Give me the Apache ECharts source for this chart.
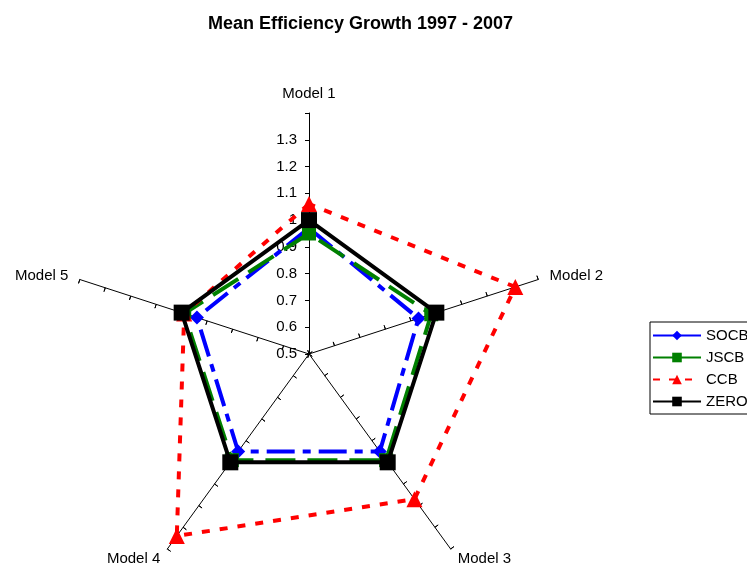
<!DOCTYPE html>
<html><head><meta charset="utf-8">
<script src="https://cdn.jsdelivr.net/npm/echarts@6/dist/echarts.min.js"></script>
<style>html,body{margin:0;padding:0;background:#fff}#c{width:747px;height:565px}</style>
</head><body><div id="c"></div>
<script>
const titleText = 'Mean Efficiency Growth 1997 - 2007';
const models = ['Model 1', 'Model 2', 'Model 3', 'Model 4', 'Model 5'];
const seriesNames = ['SOCB', 'JSCB', 'CCB', 'ZERO'];
const socb = [0.97, 0.93, 0.95, 0.95, 0.94];
const jscb = [0.95, 0.98, 0.99, 0.99, 0.99];
const ccb  = [1.06, 1.31, 1.17, 1.34, 0.99];
const zero = [1.0, 1.0, 1.0, 1.0, 1.0];
const axisMin = 0.5, axisMax = 1.4;

const chart = echarts.init(document.getElementById('c'), null, {renderer: 'canvas'});
const font = 'Liberation Sans, Arial, sans-serif';
// ECharts radar runs counter-clockwise; reorder so models go clockwise.
const order = [0, 4, 3, 2, 1];
const indicator = order.map((k, i) => {
  const o = {name: models[k], min: axisMin, max: axisMax};
  if (i === 0) o.axisLabel = {show: true};
  return o;
});
const tickIndicator = order.map(k => ({name: models[k], min: axisMin, max: axisMax}));
const styles = [
  {color: '#0000ff', type: [28, 8, 8, 8], symbol: 'diamond', size: 14, legendType: 'solid'},
  {color: '#008000', type: [30, 12], symbol: 'rect', size: 14, legendType: 'solid'},
  {color: '#ff0000', type: [8, 10], symbol: 'triangle', size: 16, legendType: [7, 9]},
  {color: '#000000', type: 'solid', symbol: 'rect', size: 16, legendType: 'solid'}
];
const values = [socb, jscb, ccb, zero];
// legend proxies (line type icons), no data
const legendProxies = seriesNames.map((n, i) => ({
  name: n, type: 'line', data: [],
  symbol: styles[i].symbol, symbolSize: 12,
  lineStyle: {color: styles[i].color, width: 4, type: styles[i].legendType},
  itemStyle: {color: styles[i].color}
}));
const radarBase = {
  center: [309, 354], radius: 241, startAngle: 90, shape: 'polygon',
  splitNumber: 9, nameGap: 12,
  splitLine: {show: false},
  splitArea: {show: false}
};
chart.setOption({
  animation: false,
  title: {text: titleText, left: 203, top: 10,
    textStyle: {fontFamily: font, fontSize: 18, fontWeight: 'bold', color: '#000'}},
  grid: {show: false, left: 0, top: 0, width: 1, height: 1},
  xAxis: {show: false, type: 'value'},
  yAxis: {show: false, type: 'value'},
  legend: {
    orient: 'vertical', left: 650, top: 322, itemWidth: 48, itemHeight: 12, itemGap: 7,
    padding: [6, 40, 5, 2], borderColor: '#000', borderWidth: 1,
    textStyle: {fontFamily: font, fontSize: 15, color: '#000'},
    data: seriesNames
  },
  radar: [
    Object.assign({}, radarBase, {
      axisName: {color: '#000', fontFamily: font, fontSize: 15},
      axisLine: {lineStyle: {color: '#000', width: 1}},
      axisTick: {show: true, length: 4, lineStyle: {color: '#000'}},
      axisLabel: {show: false, color: '#000', fontFamily: font, fontSize: 15, margin: 12,
        formatter: v => (v > 1.35 ? '' : String(Math.round(v * 10) / 10))},
      indicator: indicator
    }),
    Object.assign({}, radarBase, {
      axisName: {show: false},
      axisLine: {show: false},
      axisTick: {show: true, inside: true, length: 4, lineStyle: {color: '#000'}},
      axisLabel: {show: false},
      indicator: tickIndicator
    })
  ],
  series: legendProxies.concat(seriesNames.map((n, i) => ({
    name: n, type: 'radar', radarIndex: 0, z: 2 + i,
    symbol: styles[i].symbol, symbolSize: styles[i].size,
    lineStyle: {color: styles[i].color, width: 4, type: styles[i].type},
    itemStyle: {color: styles[i].color},
    data: [{name: n, value: order.map(k => values[i][k])}]
  })))
});
</script></body></html>
